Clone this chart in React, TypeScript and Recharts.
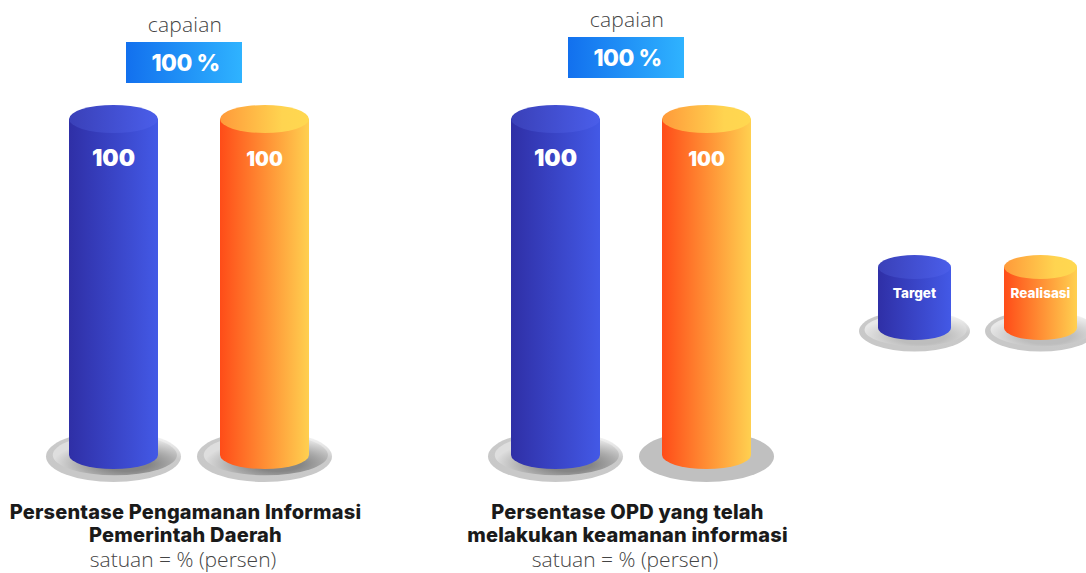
import React from 'react'
import { BarChart, Bar, XAxis, YAxis, Legend, LabelList } from 'recharts'

const categories = ['Persentase Pengamanan Informasi|Pemerintah Daerah', 'Persentase OPD yang telah|melakukan keamanan informasi']
const target = [100, 100]
const realisasi = [100, 100]
const capaian = ['100 %', '100 %']
const satuan = ['satuan = % (persen)', 'satuan = % (persen)']

const data = categories.map((name, i) => ({ name, target: target[i], realisasi: realisasi[i] }))

const BAR_W = 89
const RY = 14
const BOLD = 'Inter, sans-serif'
const LIGHT = '"Open Sans", sans-serif'
// the second badge sits a few px higher in the original
const badgeShift = [0, -5]

const Plate = ({ cx, cy, rx, ry, flat, soft }: any) =>
  flat ? (
    <ellipse cx={cx} cy={cy} rx={rx} ry={ry} fill="#c0c0c0" />
  ) : (
    <g>
      <ellipse cx={cx} cy={cy} rx={rx} ry={ry} fill="url(#plateRim)" />
      <ellipse cx={cx + rx * 0.02} cy={cy - ry * 0.06} rx={rx * 0.92} ry={ry * 0.8} fill={soft ? 'url(#plateSoft)' : 'url(#plateIn)'} />
    </g>
  )

const Cylinder = ({ x, y, width, height, ry, kind }: any) => (
  <g>
    <path
      d={`M${x},${y} L${x},${y + height} A${width / 2},${ry} 0 0 0 ${x + width},${y + height} L${x + width},${y} Z`}
      fill={`url(#${kind}Side)`}
    />
    <ellipse cx={x + width / 2} cy={y} rx={width / 2} ry={ry} fill={`url(#${kind}Top)`} />
  </g>
)

const BarShape = (kind: string) => (props: any) => {
  const { x, y, width, height, index } = props
  return (
    <g>
      <Plate cx={x + width / 2} cy={y + height + 1.5} rx={67.5} ry={25.5} flat={kind === 'orange' && index === 1} />
      <Cylinder x={x} y={y} width={width} height={height} ry={RY} kind={kind} />
    </g>
  )
}

const valueLabel = (size: number, dy: number) => (props: any) => {
  const { x, y, width, value } = props
  return (
    <text x={x + width / 2} y={y + dy} textAnchor="middle" dominantBaseline="middle" fill="#fff" fontFamily={BOLD} fontWeight={900} fontSize={size}>
      {value}
    </text>
  )
}

const CategoryTick = ({ x, payload, index }: any) => {
  const cx = x - 5
  const lines = String(payload.value).split('|')
  const shift = badgeShift[index] ?? 0
  const titleProps = { textAnchor: 'middle', fontFamily: BOLD, fontWeight: 800, fontSize: 20, letterSpacing: 0.2, fill: '#1a1a1a' } as any
  return (
    <g>
      <text x={cx + 1} y={32 + shift} textAnchor="middle" fontFamily={LIGHT} fontWeight={300} fontSize={21} letterSpacing={0.2} fill="#444">capaian</text>
      <rect x={cx - 58} y={42 + shift} width={116} height={41} fill="url(#badge)" />
      <text x={cx + 1.5} y={71 + shift} textAnchor="middle" fontFamily={BOLD} fontWeight={800} fontSize={23} letterSpacing={-0.5} fill="#fff">{capaian[index]}</text>
      <text x={cx + 1.5} y={519} {...titleProps}>{lines[0]}</text>
      <text x={cx + 1.5} y={542} {...titleProps}>{lines[1]}</text>
      <text x={cx - 1} y={567} textAnchor="middle" fontFamily={LIGHT} fontWeight={300} fontSize={21} fill="#444">{satuan[index]}</text>
    </g>
  )
}

const LegendItems = ({ payload }: any) => (
  <svg width={236} height={115} style={{ display: 'block', overflow: 'visible' }}>
    {(payload || []).map((item: any, i: number) => {
      const x = 28 + i * 126
      const kind = i === 0 ? 'blue' : 'orange'
      return (
        <g key={item.value}>
          <Plate cx={x + 36.5} cy={86} rx={55.5} ry={20.5} soft />
          <Cylinder x={x} y={22} width={73} height={61} ry={12} kind={kind} />
          <text x={x + 36.5} y={52.5} textAnchor="middle" fontFamily={BOLD} fontWeight={800} fontSize={13.5} fill="#fff">{item.value}</text>
        </g>
      )
    })}
  </svg>
)

export default function App() {
  return (
    <div style={{ position: 'absolute', left: 0, top: 0, width: 1086, height: 573, overflow: 'hidden' }}>
      <BarChart width={1086} height={573} data={data} barSize={BAR_W} barGap={62} margin={{ top: 119, right: 234, bottom: 0, left: -32 }}>
        <defs>
          <linearGradient id="blueSide" x1="0" x2="1" y1="0" y2="0">
            <stop offset="0" stopColor="#2f2fa6" />
            <stop offset="1" stopColor="#4359e6" />
          </linearGradient>
          <linearGradient id="blueTop" x1="0" x2="1" y1="0" y2="0">
            <stop offset="0" stopColor="#3a40b8" />
            <stop offset="1" stopColor="#4a5eea" />
          </linearGradient>
          <linearGradient id="orangeSide" x1="0" x2="1" y1="0" y2="0">
            <stop offset="0" stopColor="#ff4c18" />
            <stop offset="1" stopColor="#ffd050" />
          </linearGradient>
          <linearGradient id="orangeTop" x1="0" x2="1" y1="0" y2="0">
            <stop offset="0" stopColor="#ff9a3a" />
            <stop offset="0.7" stopColor="#ffd450" />
            <stop offset="1" stopColor="#ffd850" />
          </linearGradient>
          <linearGradient id="badge" x1="0" x2="1" y1="0" y2="0">
            <stop offset="0" stopColor="#1270ee" />
            <stop offset="1" stopColor="#2fb3ff" />
          </linearGradient>
          <linearGradient id="plateRim" x1="0.3" x2="0.75" y1="0.8" y2="0">
            <stop offset="0" stopColor="#c8c8c8" />
            <stop offset="0.6" stopColor="#cacaca" />
            <stop offset="1" stopColor="#fbfbfb" />
          </linearGradient>
          <radialGradient id="plateIn" cx="0.6" cy="0.72" r="0.6">
            <stop offset="0.3" stopColor="#858585" />
            <stop offset="0.62" stopColor="#ababab" />
            <stop offset="1" stopColor="#dedede" />
          </radialGradient>
          <radialGradient id="plateSoft" cx="0.55" cy="0.7" r="0.6">
            <stop offset="0.4" stopColor="#bdbdbd" />
            <stop offset="1" stopColor="#e8e8e8" />
          </radialGradient>
        </defs>
        <XAxis dataKey="name" height={118} axisLine={false} tickLine={false} interval={0} tick={CategoryTick} />
        <YAxis hide domain={[0, 100]} />
        <Legend
          layout="horizontal"
          verticalAlign="middle"
          align="center"
          itemSorter={null as any}
          wrapperStyle={{ left: 850, top: 245, width: 236, height: 115 }}
          content={LegendItems}
        />
        <Bar dataKey="target" name="Target" fill="#3a44c6" shape={BarShape('blue')} isAnimationActive={false}>
          <LabelList dataKey="target" content={valueLabel(23, 41)} />
        </Bar>
        <Bar dataKey="realisasi" name="Realisasi" fill="#ff8c36" shape={BarShape('orange')} isAnimationActive={false}>
          <LabelList dataKey="realisasi" content={valueLabel(19.5, 42)} />
        </Bar>
      </BarChart>
    </div>
  )
}
